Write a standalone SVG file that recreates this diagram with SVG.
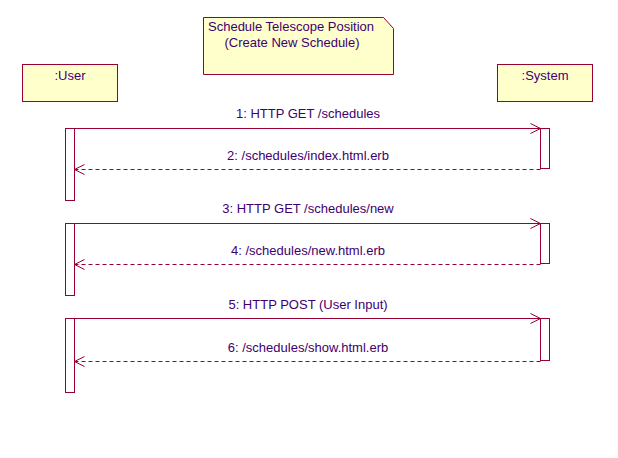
<svg xmlns="http://www.w3.org/2000/svg" width="618" height="458" viewBox="0 0 618 458">
<defs>
<style>
.box{fill:#FFFFCC;stroke:#990033;stroke-width:1}
.act{fill:#FFFFFF;stroke:#990033;stroke-width:1}
.msg{fill:none;stroke:#990033;stroke-width:1}
.ret{fill:none;stroke:#990033;stroke-width:1;stroke-dasharray:4 3}
.head{fill:none;stroke:#990033;stroke-width:1}
text{font-family:"Liberation Sans",Arial,sans-serif;font-size:13px;fill:#400070;text-anchor:middle}
</style>
</defs>
<rect width="618" height="458" fill="#FFFFFF"/>
<g id="note">
<path class="box" d="M203.5,17.5 H383.5 L393.5,28.5 V74.5 H203.5 Z"/>
<text x="291" y="31">Schedule Telescope Position</text>
<text x="292" y="47">(Create New Schedule)</text>
</g>
<g id="user">
<rect class="box" x="22.5" y="64.5" width="95" height="37"/>
<text x="70" y="80">:User</text>
</g>
<g id="system">
<rect class="box" x="497.5" y="64.5" width="95" height="37"/>
<text x="545" y="80">:System</text>
</g>
<g id="activations">
<rect class="act" x="65.5" y="128.5" width="9" height="72"/>
<rect class="act" x="540.5" y="128.5" width="9" height="40"/>
<rect class="act" x="65.5" y="223.5" width="9" height="72"/>
<rect class="act" x="540.5" y="223.5" width="9" height="40"/>
<rect class="act" x="65.5" y="318.5" width="9" height="74"/>
<rect class="act" x="540.5" y="318.5" width="9" height="42"/>
</g>
<g id="connectors">
<line class="msg" x1="74.5" y1="128.5" x2="540.5" y2="128.5"/>
<path class="head" d="M530.5,123.5 L540.5,128.5 L530.5,133.5"/>
<text x="308" y="118">1: HTTP GET /schedules</text>
<line class="ret" x1="540.5" y1="169.5" x2="74.5" y2="169.5"/>
<path class="head" d="M84.5,164.5 L74.5,169.5 L84.5,174.5"/>
<text x="308" y="160">2: /schedules/index.html.erb</text>
<line class="msg" x1="74.5" y1="223.5" x2="540.5" y2="223.5"/>
<path class="head" d="M530.5,218.5 L540.5,223.5 L530.5,228.5"/>
<text x="308" y="213">3: HTTP GET /schedules/new</text>
<line class="ret" x1="540.5" y1="264.5" x2="74.5" y2="264.5"/>
<path class="head" d="M84.5,259.5 L74.5,264.5 L84.5,269.5"/>
<text x="308" y="255">4: /schedules/new.html.erb</text>
<line class="msg" x1="74.5" y1="318.5" x2="540.5" y2="318.5"/>
<path class="head" d="M530.5,313.5 L540.5,318.5 L530.5,323.5"/>
<text x="308" y="309">5: HTTP POST (User Input)</text>
<line class="ret" x1="540.5" y1="361.5" x2="74.5" y2="361.5"/>
<path class="head" d="M84.5,356.5 L74.5,361.5 L84.5,366.5"/>
<text x="308" y="352">6: /schedules/show.html.erb</text>
</g>
</svg>
